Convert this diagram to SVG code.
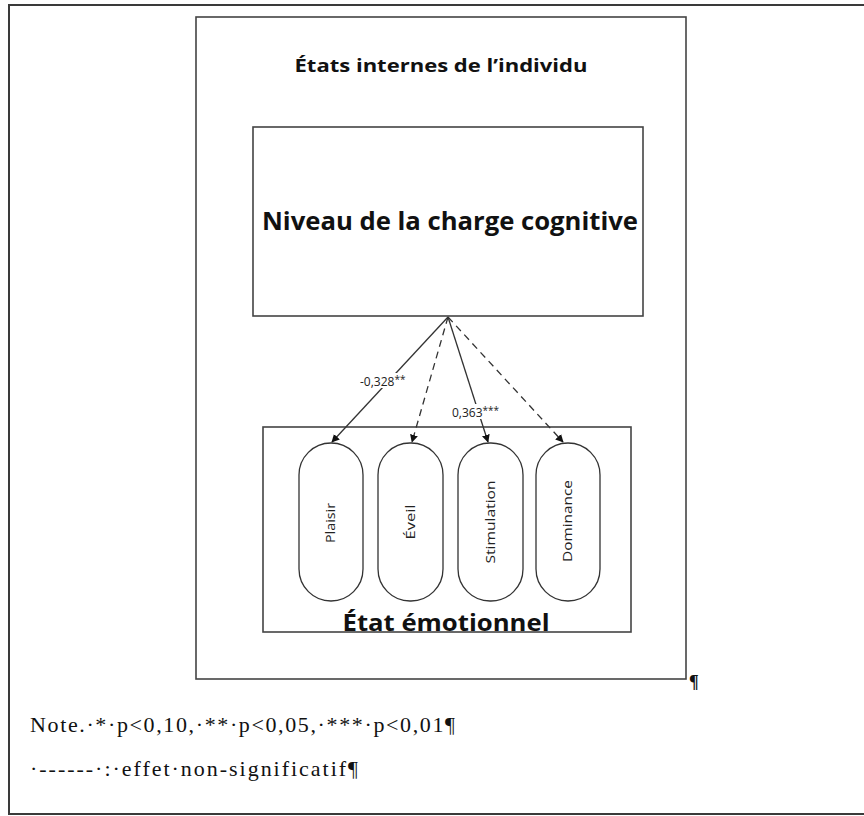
<svg xmlns="http://www.w3.org/2000/svg" width="864" height="816" viewBox="0 0 864 816">
<defs>
<style>
.frame{fill:none;stroke:#3a3a3a;stroke-width:2}
.box{fill:#fff;stroke:#444;stroke-width:1.6}
.pill{fill:#fff;stroke:#333;stroke-width:1.3}
.bold{font-family:"Open Sans","Liberation Sans",sans-serif;font-weight:bold;fill:#111}
.sans{font-family:"Open Sans","Liberation Sans",sans-serif;fill:#222}
.serif{font-family:"Liberation Serif","Times New Roman",serif;fill:#111}
.conn{stroke:#333;stroke-width:1.3;fill:none;marker-end:url(#ah)}
.dash{stroke-dasharray:7 5}
</style>
<marker id="ah" viewBox="0 0 10 10" refX="9" refY="5" markerWidth="8" markerHeight="8" markerUnits="userSpaceOnUse" orient="auto">
<path d="M0,0 L10,5 L0,10 z" fill="#111"/>
</marker>
</defs>
<rect x="0" y="0" width="864" height="816" fill="#fff"/>
<rect class="frame" x="9" y="5" width="860" height="809"/>
<g id="etats-internes">
<rect class="box" x="196" y="17" width="490" height="662"/>
<text class="bold" x="441" y="72" font-size="18" text-anchor="middle" textLength="293" lengthAdjust="spacingAndGlyphs">États internes de l’individu</text>
<text class="serif" x="689" y="688" font-size="18" font-weight="bold" fill="#000">¶</text>
</g>
<g id="charge-cognitive">
<rect class="box" x="253" y="127" width="390" height="189"/>
<text class="bold" x="450" y="230" font-size="25" text-anchor="middle" textLength="376" lengthAdjust="spacingAndGlyphs">Niveau de la charge cognitive</text>
</g>
<g id="etat-emotionnel">
<rect class="box" x="263" y="427" width="368" height="205"/>
<text class="bold" x="446" y="631" font-size="24" text-anchor="middle" textLength="207" lengthAdjust="spacingAndGlyphs">État émotionnel</text>
</g>
<g id="plaisir">
<rect class="pill" x="299" y="443" width="64" height="158" rx="32" ry="32"/>
<text class="sans" font-size="13" text-anchor="middle" textLength="40" lengthAdjust="spacingAndGlyphs" transform="translate(335,523) rotate(-90)">Plaisir</text>
</g>
<g id="eveil">
<rect class="pill" x="378" y="443" width="65" height="158" rx="32" ry="32"/>
<text class="sans" font-size="13" text-anchor="middle" textLength="35" lengthAdjust="spacingAndGlyphs" transform="translate(415,522) rotate(-90)">Éveil</text>
</g>
<g id="stimulation">
<rect class="pill" x="458" y="443" width="65" height="158" rx="32" ry="32"/>
<text class="sans" font-size="13" text-anchor="middle" textLength="83" lengthAdjust="spacingAndGlyphs" transform="translate(495,522) rotate(-90)">Stimulation</text>
</g>
<g id="dominance">
<rect class="pill" x="536" y="443" width="64" height="158" rx="32" ry="32"/>
<text class="sans" font-size="13" text-anchor="middle" textLength="82" lengthAdjust="spacingAndGlyphs" transform="translate(572,521) rotate(-90)">Dominance</text>
</g>
<g id="connectors">
<line class="conn" x1="448" y1="317" x2="332" y2="442"/>
<line class="conn dash" x1="448" y1="317" x2="412" y2="442"/>
<line class="conn" x1="448" y1="317" x2="488" y2="442"/>
<line class="conn dash" x1="448" y1="317" x2="563" y2="442"/>
<rect x="359" y="373" width="62" height="15" fill="#fff"/>
<text class="sans" x="360" y="386" font-size="12">-0,328<tspan font-size="10" dy="-3">**</tspan></text>
<rect x="451" y="404" width="68" height="15" fill="#fff"/>
<text class="sans" x="452" y="417" font-size="12">0,363<tspan font-size="10" dy="-3">***</tspan></text>
</g>
<g id="notes">
<text class="serif" x="30" y="732" font-size="22" textLength="425" lengthAdjust="spacing">Note.·*·p&lt;0,10,·**·p&lt;0,05,·***·p&lt;0,01¶</text>
<text class="serif" x="30" y="776" font-size="22" textLength="328" lengthAdjust="spacing">·------·:·effet·non-significatif¶</text>
</g>
</svg>
